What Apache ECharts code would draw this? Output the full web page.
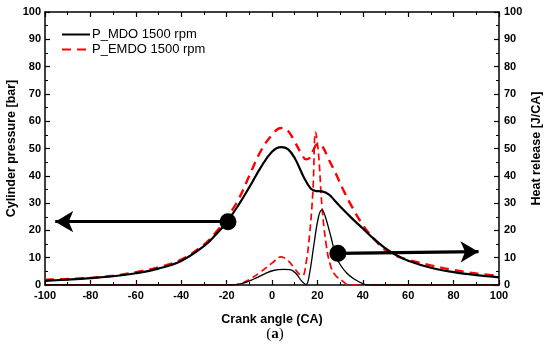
<!DOCTYPE html>
<html>
<head>
<meta charset="utf-8">
<script src="https://cdn.jsdelivr.net/npm/echarts@6/dist/echarts.min.js"></script>
<style>html,body{margin:0;padding:0;background:#fff}#c{width:550px;height:351px}</style>
</head>
<body>
<div id="c"></div>
<script>
// Cylinder pressure, MDO
const angleP_MDO = [-100,-90,-80,-70,-60,-50,-40,-30,-25,-20,-15,-10,-5,0,4,7,10,14,17,19,22,25,28,31,35,40,45,50,55,60,70,80,90,100];
const pMDO       = [1.5,2.0,2.5,3.2,4.3,6.0,8.8,14.2,18.2,23.0,29.0,35.8,43.0,48.8,50.5,49.8,46.5,39.5,35.4,34.5,34.3,33.2,30.6,27.9,24.6,20.7,16.8,13.4,10.8,8.9,6.3,4.7,3.6,2.8];
// Cylinder pressure, EMDO
const angleP_EMDO = [-100,-90,-80,-70,-60,-50,-40,-30,-25,-20,-15,-10,-5,0,4,7,10,13,15,16.5,18,20,22,25,28,31,35,40,45,50,55,60,70,80,90,100];
const pEMDO       = [1.9,2.2,2.6,3.4,4.7,6.5,9.3,14.8,19.0,24.5,31.0,40.0,49.0,55.0,57.5,56.5,52.5,48.0,46.0,46.5,49.0,51.5,51.0,46.0,41.0,35.5,29.0,22.0,16.8,12.8,10.6,9.2,7.2,5.5,4.2,3.3];
// Heat release, MDO
const angleHR_MDO = [-100,-40,-18,-13,-8,-3,1,5,8,10.5,13,15,16.5,18.5,20.5,22,23.5,26,28,30,33,36,40,42,100];
const hrMDO       = [0,0,0,0.6,2.2,4.2,5.4,5.7,5.6,4.3,1.5,0.2,4,15,25,27.5,25,17.5,11,7.5,4.3,2.3,0.5,0,0];
// Heat release, EMDO
const angleHR_EMDO = [-100,-40,-18,-14,-10,-5,0,4,7,10,12,13.5,15,16.5,18,19.2,20.5,22,24,26,28,31,34,100];
const hrEMDO       = [0,0,0,0.5,2,4.8,8,10.3,9,6,4,3.5,8,18,34,56,48,29,14,6.5,3.5,1.5,0,0];
// Arrows (start dot -> arrow end), in data units
const arrowLeft  = [[-19.4, 23.2], [-95.5, 23.2]];
const arrowRight = [[29, 11.6], [91, 12.2]];

const xTicks = {min:-100, max:100, interval:20};
const yTicks = {min:0, max:100, interval:10};
const legendNames = ['P_MDO 1500 rpm', 'P_EMDO 1500 rpm'];
const yNameLeft = 'Cylinder pressure [bar]';
const yNameRight = 'Heat release [J/CA]';

function zip(a, b){ return a.map((v,i)=>[v,b[i]]); }

const chart = echarts.init(document.getElementById('c'));
const FF = '"Liberation Sans", Arial, sans-serif';
const labelFont = {color:'#000', fontFamily:FF, fontWeight:'bold', fontSize:11};
const nameFont = {color:'#000', fontFamily:FF, fontWeight:'bold', fontSize:12.5};
const axLine = {show:true, onZero:false, lineStyle:{color:'#000', width:1.5}};
const tick = {show:true, inside:true, length:5, lineStyle:{color:'#000', width:1.2}};
const minor = {show:true, splitNumber:2, length:3, lineStyle:{color:'#000', width:1}};

function arrowLine(a){
  return [{coord:a[0], symbol:'circle', symbolSize:17}, {coord:a[1], symbol:'arrow', symbolSize:[16,18]}];
}

chart.setOption({
  animation:false,
  backgroundColor:'#fff',
  grid:{left:45, right:51, top:12, bottom:66, containLabel:false, outerBoundsMode:'none'},
  legend:{
    data:legendNames, orient:'vertical', left:56, top:23, itemWidth:28, itemHeight:12, itemGap:2,
    itemStyle:{opacity:0},
    textStyle:{color:'#000', fontFamily:FF, fontSize:13, padding:[0,0,0,-3]}
  },
  xAxis:[
    {type:'value', position:'bottom', min:xTicks.min, max:xTicks.max, interval:xTicks.interval,
     name:'Crank angle (CA)', nameLocation:'middle', nameGap:28, nameTextStyle:nameFont,
     axisLine:axLine, axisTick:tick, minorTick:minor, splitLine:{show:false},
     axisLabel:Object.assign({margin:5}, labelFont)},
    {type:'value', position:'top', min:xTicks.min, max:xTicks.max, interval:xTicks.interval,
     axisLine:axLine, axisTick:tick, minorTick:minor, splitLine:{show:false}, axisLabel:{show:false}}
  ],
  yAxis:[
    {type:'value', position:'left', min:yTicks.min, max:yTicks.max, interval:yTicks.interval,
     axisLine:axLine, axisTick:tick, minorTick:minor, splitLine:{show:false},
     axisLabel:Object.assign({margin:4}, labelFont)},
    {type:'value', position:'right', min:yTicks.min, max:yTicks.max, interval:yTicks.interval,
     axisLine:axLine, axisTick:tick, minorTick:minor, splitLine:{show:false},
     axisLabel:Object.assign({margin:5}, labelFont)}
  ],
  series:[
    {name:legendNames[0], type:'line', data:zip(angleP_MDO, pMDO), smooth:0.4, symbol:'none',
     lineStyle:{color:'#000', width:2.2}, itemStyle:{color:'#000'}, z:3,
     markLine:{silent:true, animation:false, label:{show:false},
       lineStyle:{color:'#000', width:3.2, type:'solid'}, emphasis:{disabled:true},
       data:[arrowLine(arrowLeft), arrowLine(arrowRight)]}},
    {name:legendNames[1], type:'line', data:zip(angleP_EMDO, pEMDO), smooth:0.4, symbol:'none',
     lineStyle:{color:'#ff0000', width:2.4, type:[9,6]}, itemStyle:{color:'#ff0000'}, z:2},
    {name:'HR_MDO', type:'line', yAxisIndex:1, data:zip(angleHR_MDO, hrMDO), smooth:0.4, symbol:'none',
     lineStyle:{color:'#000', width:1.3}, z:3},
    {name:'HR_EMDO', type:'line', yAxisIndex:1, data:zip(angleHR_EMDO, hrEMDO), smooth:0.4, symbol:'none',
     lineStyle:{color:'#ff0000', width:1.7, type:[7,4]}, z:2}
  ],
  graphic:[
    {type:'text', x:12, y:148.5, rotation:Math.PI/2,
     style:{text:yNameLeft, font:'bold 12.5px "Liberation Sans", Arial, sans-serif', fill:'#000',
       align:'center', verticalAlign:'middle'}},
    {type:'text', x:537, y:148.5, rotation:Math.PI/2,
     style:{text:yNameRight, font:'bold 12.5px "Liberation Sans", Arial, sans-serif', fill:'#000',
       align:'center', verticalAlign:'middle'}},
    {type:'text', left:'center', top:327,
     style:{text:'({b|a})', rich:{b:{fontWeight:'bold', fontFamily:'"Liberation Serif", serif', fontSize:15}},
       font:'15px "Liberation Serif", serif', fill:'#000'}}
  ]
});
</script>
</body>
</html>
